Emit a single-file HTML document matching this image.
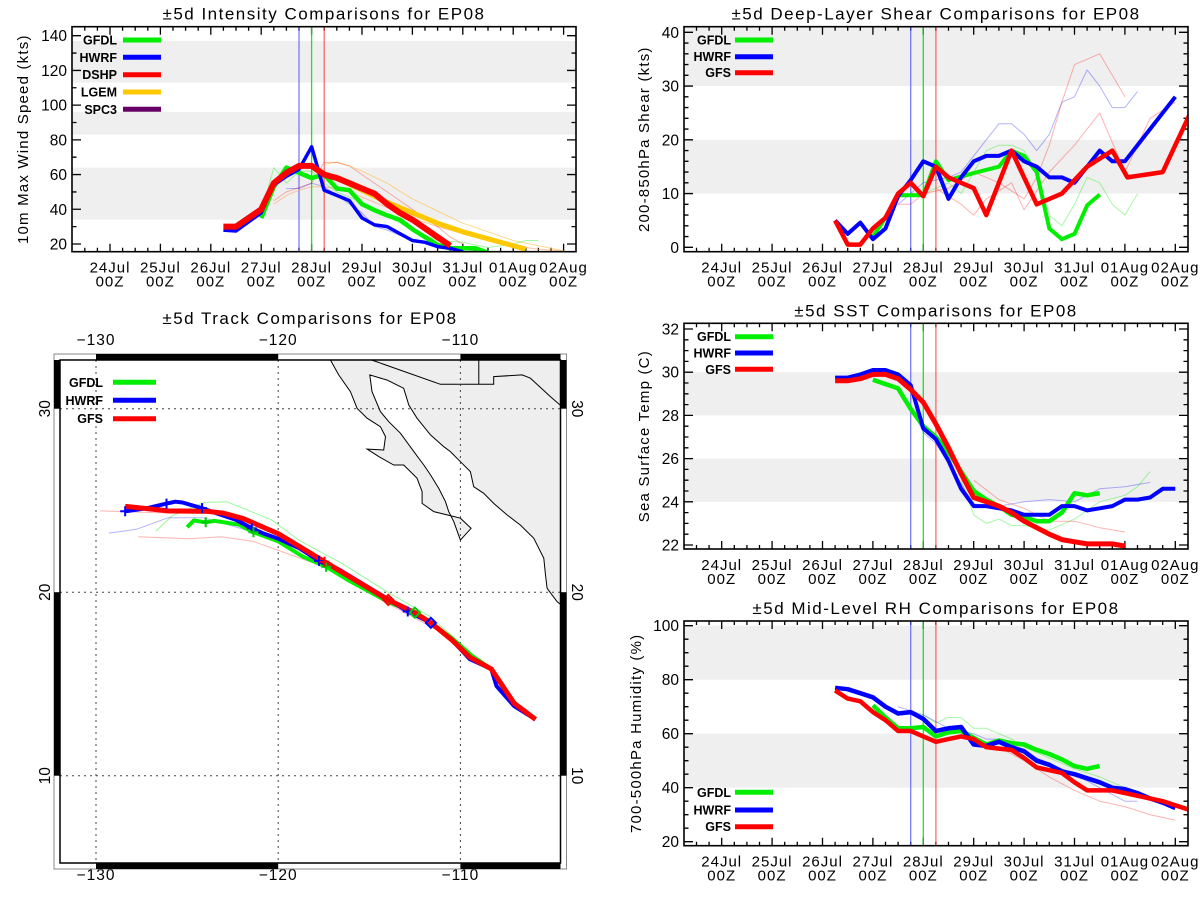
<!DOCTYPE html>
<html><head><meta charset="utf-8"><title>EP08 Comparisons</title>
<style>
html,body{margin:0;padding:0;background:#fff;}
svg{display:block;font-family:"Liberation Sans",sans-serif;}
</style></head>
<body>
<svg id="chart" width="1200" height="900" viewBox="0 0 1200 900" xmlns="http://www.w3.org/2000/svg"></svg>
<script>
// ===== data (day index: 0 = 24Jul 00Z) =====
const dateLabels=["24Jul","25Jul","26Jul","27Jul","28Jul","29Jul","30Jul","31Jul","01Aug","02Aug"];
const initDays=[3.75,4.0,4.25];

// Intensity (kts)
const intTicks=[20,40,60,80,100,120,140];
const intBands=[[34,64],[83,96],[113,137]];
const intDshpT=[2.25,2.5,3,3.25,3.5,3.75,4,4.25,4.5,4.75,5,5.25,5.5,5.75,6,6.25,6.5,6.75];
const intDshpV=[30,30,40,55,61,65,65,60,58,55,52,49,43,38,34,29,24,19];
const intHwrfT=[2.25,2.5,3,3.25,3.5,3.75,4,4.25,4.5,4.75,5,5.25,5.5,5.75,6,6.25,6.5,6.75,7];
const intHwrfV=[28,27.5,38,54,59,63,76,51,48,45,35,31,30,26,22,21,18.5,17.5,15.5];
const intGfdlT=[3,3.25,3.5,3.75,4,4.25,4.5,4.75,5,5.25,5.5,5.75,6,6.25,6.5,6.75,7,7.25,7.5];
const intGfdlV=[35,53,64,61,58,60,52,51,43,39.5,36.5,34,28.5,24,19.5,17.5,17.5,17.5,15];
const intLgemT=[4.25,4.5,5,5.5,6,6.5,7,7.5,8.25];
const intLgemV=[60,58,51,44,38,32,27,23,17];
const intThinOrg1T=[3.25,3.5,3.75,4,4.25,4.5,4.75,5,5.5,6,6.5,7,7.5,8,8.5,9];
const intThinOrg1V=[43,48,51,53,53,52,50,47,41,35,30,26,22,19,17,16];
const intThinOrg2T=[4.25,4.5,4.75,5,5.5,6,6.5,7,7.5,8,8.5,9];
const intThinOrg2V=[66,67,65,62,55,46,39,32,27,22,19,16];
const intThinRedT=[3.25,3.5,4,4.25,4.5,4.75,5,5.5,6,6.5,6.75,7];
const intThinRedV=[45,50,55,67,67,65,60,50,40,30,24,20];
const intThinBluT=[3.5,3.75,4,4.25,4.5,4.75,5,5.25,5.5,6,6.5,7,7.5];
const intThinBluV=[52,52,55,53,48,43,38,30,28,22,19,17,15];
const intThinGrnT=[3,3.25,3.5,3.75,4,4.25,4.5,5,5.5,6,6.5,7,7.5,8,8.25,8.5];
const intThinGrnV=[38,64,55,62,62,55,50,44,36,28,22,21,18,20,22,22];

// Shear (kts)
const shrTicks=[0,10,20,30,40];
const shrBands=[[10,20],[30,41]];
const shrHwrfT=[2.25,2.5,2.75,3,3.25,3.5,3.75,4,4.25,4.5,4.75,5,5.25,5.5,5.75,6,6.25,6.5,6.75,7,7.25,7.5,7.75,8,9];
const shrHwrfV=[5,2.5,4.6,1.5,3.5,9.5,12.5,16,15,9,13,16,17,17,18,16,15,13,13,12,15,18,16,16,28];
const shrGfsT=[2.25,2.5,2.75,3,3.25,3.5,3.75,4,4.25,4.5,5,5.25,5.75,6.25,6.75,7.25,7.75,8.05,8.75,9.3];
const shrGfsV=[5,0.5,0.5,3.5,5.5,10,12,9.5,15,13,11,6,18,8,10,15,18,13,14,25];
const shrGfdlT=[3,3.25,3.5,3.75,4,4.25,4.5,5,5.5,5.75,6,6.25,6.5,6.75,7,7.25,7.5];
const shrGfdlV=[2,5.5,9.7,9.7,9.7,16,12.5,13.8,15,18,17,14,3.5,1.5,2.5,7.8,9.8];
const shrThinBluT=[3.5,3.75,4,4.5,4.75,5,5.5,5.75,6,6.25,6.5,6.75,7,7.25,7.5,7.75,8,8.25];
const shrThinBluV=[8,10,12,13,14,17,23,23,21,18,21,27,28,33,30,26,26,29];
const shrThinRed1T=[3.5,3.75,4,4.5,5,5.5,6,6.25,6.5,6.75,7,7.5,8];
const shrThinRed1V=[8,8,10,11,14,12,9,13,19,27,34,36,28];
const shrThinRed2T=[4.25,4.75,5,5.25,5.75,6,6.5,7,7.5,8,8.5,9];
const shrThinRed2V=[11,8,6,9,12,7,14,19,25,14,24,27];
const shrThinGrnT=[3.25,3.5,4,4.5,4.75,5,5.25,5.5,5.75,6,6.25,6.5,6.75,7,7.25,7.5,7.75,8,8.25];
const shrThinGrnV=[6,10,10,12,10,14,18,19,19,18,14,6,4,8,13,12,8,6,10];

// SST (C)
const sstTicks=[22,24,26,28,30,32];
const sstBands=[[24,26],[28,30]];
const sstHwrfT=[2.25,2.5,2.75,3,3.25,3.5,3.75,4,4.25,4.5,4.75,5,5.25,5.5,5.75,6,6.25,6.5,6.75,7,7.25,7.5,7.75,8,8.25,8.5,8.75,9];
const sstHwrfV=[29.75,29.75,29.9,30.1,30.1,29.9,29.4,27.4,26.9,25.9,24.6,23.8,23.8,23.7,23.6,23.4,23.4,23.4,23.8,23.8,23.6,23.7,23.8,24.1,24.1,24.2,24.6,24.6];
const sstGfsT=[2.25,2.5,2.75,3,3.25,3.5,3.75,4,4.25,4.5,4.75,5,5.25,5.5,5.75,6,6.25,6.5,6.75,7,7.25,7.5,7.75,8];
const sstGfsV=[29.6,29.6,29.7,29.9,29.9,29.7,29.2,28.6,27.6,26.5,25.3,24.2,24.0,23.8,23.5,23.1,22.8,22.5,22.25,22.15,22.05,22.05,22.05,21.95];
const sstGfdlT=[3,3.25,3.5,3.75,4,4.25,4.5,4.75,5,5.25,5.5,5.75,6,6.25,6.5,6.75,7,7.25,7.5];
const sstGfdlV=[29.65,29.45,29.25,28.3,27.5,27.0,26.3,25.4,24.5,24.1,23.8,23.4,23.3,23.1,23.1,23.5,24.4,24.3,24.4];
const sstThinGrnT=[4.75,5,5.25,5.5,5.75,6,6.5,7,7.5,8,8.25,8.5];
const sstThinGrnV=[25,23.4,23.0,23.2,22.9,22.9,22.7,23.2,24.0,24.3,24.7,25.4];
const sstThinBluT=[3.75,4,4.25,5,5.5,6,6.5,7,7.5,8,8.5];
const sstThinBluV=[28.5,27.2,26.7,23.9,23.8,24.0,24.1,24.0,24.6,24.7,24.9];
const sstThinRedT=[5,5.5,6,6.5,7,7.5,8];
const sstThinRedV=[25.0,24.1,23.7,23.1,23.1,22.8,22.6];

// RH (%)
const rhTicks=[20,40,60,80,100];
const rhBands=[[40,60],[80,100]];
const rhHwrfT=[2.25,2.5,2.75,3,3.25,3.5,3.75,4,4.25,4.5,4.75,5,5.25,5.5,5.75,6,6.25,6.5,6.75,7,7.25,7.5,7.75,8,8.25,8.5,8.75,9];
const rhHwrfV=[77,76.5,75,73.5,70,67.5,68,65.5,61,62,62.5,56,55.5,57,55,53.5,50,48.5,46,45,43.5,42,40,39.5,38,36,34.5,32.5];
const rhGfsT=[2.25,2.5,2.75,3,3.25,3.5,3.75,4,4.25,4.5,4.75,5,5.25,5.5,5.75,6,6.25,6.5,6.75,7,7.25,7.5,7.75,8,8.25,8.5,8.75,9,9.25];
const rhGfsV=[76,73,72,68,65,61,61,59,57,58,59,58,55,54.5,54,51,47.5,46.5,45.5,42,39,39,39,38,37,36,35,33.5,32];
const rhGfdlT=[3,3.25,3.5,3.75,4,4.25,4.5,4.75,5,5.25,5.5,5.75,6,6.25,6.5,6.75,7,7.25,7.5];
const rhGfdlV=[70.5,66,62,62,62.5,59,60.5,61,58.5,56,57.5,56.5,56,54,52.5,50.5,48,47,48];
const rhThinGrnT=[4,4.25,4.5,4.75,5,5.25,5.5,5.75,6,6.5,7,7.5,8,8.25];
const rhThinGrnV=[67,64,66,66,62,62,60,58,55,51,47,44,40,38];
const rhThinBluT=[3.5,4,4.5,5,5.25,5.5,6,6.5,7,7.5,8,8.25];
const rhThinBluV=[70,67,62,60,58,58,53,49,45,40,35,35];
const rhThinRedT=[5,5.5,6,6.5,7,7.5,8,8.5,9];
const rhThinRedV=[57,55,50,44,39,35,33,30,28];

// Track (lon, lat)
const lonTicks=[-130,-120,-110];
const latTicks=[10,20,30];
const gfsLon=[-128.40,-126.03,-123.89,-123.01,-121.94,-119.99,-117.46,-113.96,-112.50,-111.62,-110.46,-109.48,-108.31,-107.05,-105.88];
const gfsLat=[24.68,24.43,24.41,24.31,24.02,23.18,21.66,19.58,18.89,18.33,17.39,16.45,15.82,13.95,13.07];
const hwrfLon=[-128.40,-127.20,-126.13,-125.64,-125.25,-124.18,-123.30,-122.33,-121.45,-120.77,-119.99,-118.83,-117.76,-116.68,-114.06,-112.89,-111.62,-110.46,-109.48,-108.31,-108.02,-107.05,-105.88];
const hwrfLat=[24.41,24.58,24.83,24.93,24.89,24.58,24.27,23.95,23.48,23.18,22.91,22.39,21.70,21.24,19.68,18.95,18.33,17.39,16.35,15.82,14.89,13.80,13.07];
const gfdlLon=[-125.00,-124.63,-123.98,-123.50,-122.14,-121.36,-119.99,-118.63,-117.37,-116.10,-113.96,-112.50,-111.62,-110.46,-109.39,-108.31];
const gfdlLat=[23.54,23.91,23.81,23.89,23.68,23.27,22.77,21.93,21.39,20.62,19.47,18.89,18.33,17.49,16.55,15.82];
const thinGrnLon=[-126.71,-125.83,-124.08,-122.82,-120.38,-118.83,-116.49,-113.96,-111.62,-108.90];
const thinGrnLat=[23.33,24.16,24.89,24.93,23.95,22.81,21.56,19.99,18.64,16.24];
const thinBluLon=[-129.30,-127.78,-126.03,-124.08,-121.55,-118.83,-114.15];
const thinBluLat=[23.22,23.43,24.06,24.06,23.33,22.60,19.68];
const thinRed1Lon=[-129.77,-125.83,-122.72,-119.99,-117.46,-113.96];
const thinRed1Lat=[24.43,24.31,24.27,23.22,21.77,19.68];
const thinRed2Lon=[-127.68,-124.86,-123.11,-121.36,-117.66,-114.15,-110.65];
const thinRed2Lat=[23.02,22.91,23.02,22.77,21.45,19.47,17.60];
const hwrfPlusLon=[-128.40,-126.13,-124.18,-121.45,-117.76,-112.89];
const hwrfPlusLat=[24.41,24.83,24.58,23.48,21.70,18.95];
const gfdlPlusLon=[-123.98,-121.36,-117.37];
const gfdlPlusLat=[23.81,23.27,21.39];
const gfsPlusLon=[-117.46];
const gfsPlusLat=[21.66];
const diamondLon=[-111.62,-112.50,-113.96];
const diamondLat=[18.33,18.89,19.58];
const landLon=[-117.3,-117.13,-116.68,-116.04,-115.67,-115.12,-114.39,-114.11,-114.21,-115.12,-114.48,-113.66,-113.11,-112.38,-112.10,-112.10,-111.46,-110.73,-110.0,-109.41,-110.0,
  -110.36,-110.64,-110.82,-111.19,-111.64,-112.01,-112.56,-113.29,-113.93,-114.39,-114.85,-114.97,
  -114.02,-113.11,-112.83,-112.38,-111.64,-110.91,-110.55,-110.0,-109.45,-109.27,-108.72,-108.17,-107.44,-106.71,-105.97,-105.42,-105.33,-105.24,-104.69,-104.2,-104.2];
const landLat=[32.9,32.65,31.84,30.93,30.02,29.48,29.02,28.48,27.75,27.80,27.39,26.93,26.93,26.21,25.48,24.84,24.39,24.21,24.03,23.48,22.84,
  23.84,24.39,24.93,25.66,26.39,26.93,27.66,28.66,29.29,29.84,30.93,31.84,
  31.56,31.11,30.20,29.48,28.57,27.93,27.66,27.11,26.57,25.75,25.39,24.84,24.21,23.66,22.94,21.85,20.94,20.21,19.48,19.1,32.9];
const borderLon=[-114.85,-111.10,-108.17,-108.17,-106.61,-106.16,-105.06,-104.3];
const borderLat=[32.65,31.33,31.33,31.75,31.84,31.66,30.66,30.0];
const border2Lon=[-108.99,-108.99];
const border2Lat=[32.9,31.33];

// ===== drawing =====
const NS='http://www.w3.org/2000/svg';
const svg=document.getElementById('chart');
const DAY=50.4;
function mk(tag,attrs,parent){const e=document.createElementNS(NS,tag);for(const k in attrs)e.setAttribute(k,attrs[k]);(parent||svg).appendChild(e);return e;}
function txt(s,attrs,parent){const e=mk('text',attrs,parent);e.textContent=s;return e;}

function makePanel(p){
  const g=mk('g',{});
  
  
  p.g=g;
  p.xs=d=>p.x0+DAY*d;
  p.ys=v=>p.y0-(v-p.v0)*p.k;
  const cid='clip-'+p.name;
  const cp=mk('clipPath',{id:cid},g);
  mk('rect',{x:p.L,y:p.T,width:p.R-p.L,height:p.B-p.T},cp);
  p.clip='url(#'+cid+')';
  p.bands.forEach(b=>{
    const y1=Math.max(p.T,p.ys(b[1])),y2=Math.min(p.B,p.ys(b[0]));
    const r=mk('rect',{x:p.L,y:y1,width:p.R-p.L,height:y2-y1,fill:'#efefef'},g);
    
    
  });
  const t=txt(p.title,{x:(p.L+p.R)/2,y:p.T-7,'text-anchor':'middle','font-size':17,'letter-spacing':1.5,fill:'#000'},g);
  
  
  const yc=(p.T+p.B)/2;
  const yt=txt(p.ytitle,{x:p.ytx,y:yc,'text-anchor':'middle','dominant-baseline':'middle','font-size':15,'letter-spacing':1.2,transform:'rotate(-90 '+p.ytx+' '+yc+')'},g);
  
  
  for(let q=-3;q<=37;q++){
    const d=q/4,x=p.xs(d);
    if(x<=p.L+0.5||x>=p.R-0.5)continue;
    const len=(q%4===0)?8:4;
    const tk=mk('path',{d:'M'+x+' '+p.B+'V'+(p.B-len)+'M'+x+' '+p.T+'V'+(p.T+len),stroke:'#000','stroke-width':1.3},g);
    
    
  }
  dateLabels.forEach((s,i)=>{
    const x=p.xs(i);
    const a=txt(s,{x:x,y:p.B+21,'text-anchor':'middle','font-size':15,'letter-spacing':1},g);
    
    
    const b=txt('00Z',{x:x,y:p.B+35,'text-anchor':'middle','font-size':15,'letter-spacing':1},g);
    
    
  });
  const lo=p.v0-(p.B-p.y0)/p.k, hi=p.v0+(p.y0-p.T)/p.k;
  for(let v=Math.ceil(lo/p.minor)*p.minor; v<=hi+1e-9; v+=p.minor){
    const y=p.ys(v);
    if(y>=p.B-0.5||y<=p.T+0.5)continue;
    const major=Math.abs(v/p.major-Math.round(v/p.major))<1e-6;
    const len=major?9:4.5;
    const tk=mk('path',{d:'M'+p.L+' '+y+'H'+(p.L+len)+'M'+p.R+' '+y+'H'+(p.R-len),stroke:'#000','stroke-width':1.3},g);
    
    
  }
  p.ticks.forEach(v=>{
    const l=txt(String(v),{x:p.L-5,y:p.ys(v)+5.5,'text-anchor':'end','font-size':15.5},g);
    
    
  });
  const ic=['rgba(80,80,255,0.75)','rgba(0,230,0,0.9)','rgba(255,60,60,0.75)'];
  initDays.forEach((d,i)=>{
    const ln=mk('line',{x1:p.xs(d),x2:p.xs(d),y1:p.T,y2:p.B,stroke:ic[i],'stroke-width':1.3},g);
    
    
  });
  return p;
}
function series(p,T,V,color,w,op,name){
  const pts=T.map((d,i)=>p.xs(d).toFixed(1)+','+p.ys(V[i]).toFixed(1)).join(' ');
  const pl=mk('polyline',{points:pts,fill:'none',stroke:color,'stroke-width':w,'stroke-opacity':op,'stroke-linejoin':'round','clip-path':p.clip},p.g);
  
  
}
function frame(p){
  const r=mk('rect',{x:p.L,y:p.T,width:p.R-p.L,height:p.B-p.T,fill:'none',stroke:'#000','stroke-width':1.6},p.g);
  
  
}
function legend(p,items,tx,lx1,lx2,ys){
  items.forEach((it,i)=>{
    const t=txt(it[0],{x:tx,y:ys[i]+4.5,'text-anchor':'end','font-size':12.5,'font-weight':'bold'},p.g||svg);
    
    
    const l=mk('line',{x1:lx1,x2:lx2,y1:ys[i],y2:ys[i],stroke:it[1],'stroke-width':5},p.g||svg);
    
    
  });
}
const G='#00ee00',B='#0000ff',R='#ff0000',O='#ffc800',Pu='#660066';

const pInt=makePanel({name:'intensity-panel',title:'\u00b15d Intensity Comparisons for EP08',ytitle:'10m Max Wind Speed (kts)',ytx:24,
  L:72,T:26.7,R:576,B:251.7,x0:110,v0:20,y0:244,k:1.7358,major:20,minor:10,bands:intBands,ticks:intTicks});
series(pInt,intThinOrg1T,intThinOrg1V,'#ffa060',1,0.6,'lgem-prev-run');
series(pInt,intThinOrg2T,intThinOrg2V,'#ffc040',1,0.6,'lgem-prev-run-2');
series(pInt,intThinRedT,intThinRedV,R,1,0.3,'dshp-prev-run');
series(pInt,intThinBluT,intThinBluV,B,1,0.3,'hwrf-prev-run');
series(pInt,intThinGrnT,intThinGrnV,G,1,0.35,'gfdl-prev-run');
series(pInt,intLgemT,intLgemV,O,5,1,'lgem-line');
series(pInt,intGfdlT,intGfdlV,G,4.5,1,'gfdl-line');
series(pInt,intHwrfT,intHwrfV,B,3.5,1,'hwrf-line');
series(pInt,intDshpT,intDshpV,R,6,1,'dshp-line');
frame(pInt);
legend(pInt,[['GFDL',G],['HWRF',B],['DSHP',R],['LGEM',O],['SPC3',Pu]],117,123,161,[40,57.3,74.7,92,109.3]);

const pShr=makePanel({name:'shear-panel',title:'\u00b15d Deep-Layer Shear Comparisons for EP08',ytitle:'200-850hPa Shear (kts)',ytx:645,
  L:684,T:26.7,R:1188,B:251.7,x0:721.7,v0:0,y0:247.3,k:5.375,major:10,minor:2,bands:shrBands,ticks:shrTicks});
series(pShr,shrThinBluT,shrThinBluV,B,1,0.3,'hwrf-prev-run');
series(pShr,shrThinRed1T,shrThinRed1V,R,1,0.3,'gfs-prev-run');
series(pShr,shrThinRed2T,shrThinRed2V,R,1,0.3,'gfs-prev-run-2');
series(pShr,shrThinGrnT,shrThinGrnV,G,1,0.35,'gfdl-prev-run');
series(pShr,shrGfdlT,shrGfdlV,G,4,1,'gfdl-line');
series(pShr,shrHwrfT,shrHwrfV,B,4,1,'hwrf-line');
series(pShr,shrGfsT,shrGfsV,R,4.5,1,'gfs-line');
frame(pShr);
legend(pShr,[['GFDL',G],['HWRF',B],['GFS',R]],731,735,773,[40,56.7,72.7]);

const pSst=makePanel({name:'sst-panel',title:'\u00b15d SST Comparisons for EP08',ytitle:'Sea Surface Temp (C)',ytx:645,
  L:684,T:323.3,R:1188,B:549,x0:721.7,v0:22,y0:545,k:21.6,major:2,minor:0.5,bands:sstBands,ticks:sstTicks});
series(pSst,sstThinGrnT,sstThinGrnV,G,1,0.35,'gfdl-prev-run');
series(pSst,sstThinBluT,sstThinBluV,B,1,0.3,'hwrf-prev-run');
series(pSst,sstThinRedT,sstThinRedV,R,1,0.3,'gfs-prev-run');
series(pSst,sstGfdlT,sstGfdlV,G,4.5,1,'gfdl-line');
series(pSst,sstHwrfT,sstHwrfV,B,4,1,'hwrf-line');
series(pSst,sstGfsT,sstGfsV,R,5,1,'gfs-line');
frame(pSst);
legend(pSst,[['GFDL',G],['HWRF',B],['GFS',R]],731,735,773,[336.7,353,369.3]);

const pRh=makePanel({name:'rh-panel',title:'\u00b15d Mid-Level RH Comparisons for EP08',ytitle:'700-500hPa Humidity (%)',ytx:637,
  L:684,T:621,R:1188,B:845.7,x0:721.7,v0:20,y0:841.7,k:2.7,major:20,minor:5,bands:rhBands,ticks:rhTicks});
series(pRh,rhThinGrnT,rhThinGrnV,G,1,0.35,'gfdl-prev-run');
series(pRh,rhThinBluT,rhThinBluV,B,1,0.3,'hwrf-prev-run');
series(pRh,rhThinRedT,rhThinRedV,R,1,0.3,'gfs-prev-run');
series(pRh,rhGfdlT,rhGfdlV,G,4.5,1,'gfdl-line');
series(pRh,rhHwrfT,rhHwrfV,B,4.5,1,'hwrf-line');
series(pRh,rhGfsT,rhGfsV,R,4.5,1,'gfs-line');
frame(pRh);
legend(pRh,[['GFDL',G],['HWRF',B],['GFS',R]],731,735,773,[792.3,810,826.7]);

(function(){
  const g=mk('g',{});
  
  
  const L=60,T=360,Rr=560.5,Bb=863;
  const lx=lon=>96+(lon+130)*18.22;
  const ly=lat=>408.7+(30-lat)*18.35;
  const cp=mk('clipPath',{id:'clip-map'},g);
  mk('rect',{x:L,y:T,width:Rr-L,height:Bb-T},cp);
  const t=txt('\u00b15d Track Comparisons for EP08',{x:310,y:324,'text-anchor':'middle','font-size':17,'letter-spacing':1.5},g);
  
  
  const land=mk('polygon',{points:landLon.map((v,i)=>lx(v).toFixed(1)+','+ly(landLat[i]).toFixed(1)).join(' '),fill:'#eeeeee',stroke:'#000','stroke-width':1,'clip-path':'url(#clip-map)'},g);
  
  
  const bd=mk('polyline',{points:borderLon.map((v,i)=>lx(v).toFixed(1)+','+ly(borderLat[i]).toFixed(1)).join(' '),fill:'none',stroke:'#000','stroke-width':1,'clip-path':'url(#clip-map)'},g);
  
  
  const bd2=mk('polyline',{points:border2Lon.map((v,i)=>lx(v).toFixed(1)+','+ly(border2Lat[i]).toFixed(1)).join(' '),fill:'none',stroke:'#000','stroke-width':1,'clip-path':'url(#clip-map)'},g);
  
  
  lonTicks.forEach(v=>{
    const x=lx(v);
    const gl=mk('line',{x1:x,x2:x,y1:T,y2:Bb,stroke:'#444','stroke-width':1,'stroke-dasharray':'2,4'},g);
    
    
    [345,880].forEach(yy=>{
      const l=txt('\u2212'+Math.abs(v),{x:x,y:yy,'text-anchor':'middle','font-size':15.5,'letter-spacing':1},g);
      
      
    });
  });
  latTicks.forEach(v=>{
    const y=ly(v);
    const gl=mk('line',{x1:L,x2:Rr,y1:y,y2:y,stroke:'#444','stroke-width':1,'stroke-dasharray':'2,4'},g);
    
    
    const a=txt(String(v),{x:46,y:y,'text-anchor':'middle','dominant-baseline':'middle','font-size':15.5,transform:'rotate(-90 46 '+y+')'},g);
    
    
    const b=txt(String(v),{x:576,y:y,'text-anchor':'middle','dominant-baseline':'middle','font-size':15.5,transform:'rotate(90 576 '+y+')'},g);
    
    
  });
  function trk(lo,la,c,w,op,name){
    const pl=mk('polyline',{points:lo.map((v,i)=>lx(v).toFixed(1)+','+ly(la[i]).toFixed(1)).join(' '),fill:'none',stroke:c,'stroke-width':w,'stroke-opacity':op,'stroke-linejoin':'round','clip-path':'url(#clip-map)'},g);
    
    
  }
  trk(thinGrnLon,thinGrnLat,G,1,0.4,'gfdl-prev-track');
  trk(thinBluLon,thinBluLat,B,1,0.3,'hwrf-prev-track');
  trk(thinRed1Lon,thinRed1Lat,R,1,0.3,'gfs-prev-track');
  trk(thinRed2Lon,thinRed2Lat,R,1,0.3,'gfs-prev-track-2');
  trk(gfdlLon,gfdlLat,G,4,1,'gfdl-track');
  trk(hwrfLon,hwrfLat,B,4,1,'hwrf-track');
  trk(gfsLon,gfsLat,R,5,1,'gfs-track');
  function plus(lo,la,c){
    lo.forEach((v,i)=>{
      const x=lx(v),y=ly(la[i]);
      const m=mk('path',{d:'M'+(x-5)+' '+y+'H'+(x+5)+'M'+x+' '+(y-5)+'V'+(y+5),stroke:c,'stroke-width':2},g);
      
      
    });
  }
  plus(hwrfPlusLon,hwrfPlusLat,B);
  plus(gfdlPlusLon,gfdlPlusLat,'#00cc00');
  plus(gfsPlusLon,gfsPlusLat,R);
  const dc=[B,'#00cc00',R];
  diamondLon.forEach((v,i)=>{
    const x=lx(v),y=ly(diamondLat[i]);
    const m=mk('polygon',{points:(x)+','+(y-5)+' '+(x+5)+','+y+' '+x+','+(y+5)+' '+(x-5)+','+y,fill:'none',stroke:dc[i],'stroke-width':2},g);
    
    
  });
  const of=mk('rect',{x:54,y:354,width:512.5,height:515,fill:'none',stroke:'#888','stroke-width':1},g);
  
  
  const bars=[[lx(-130),T-6,lx(-120)-lx(-130),6],[lx(-110),T-6,Rr-lx(-110),6],[lx(-130),Bb,lx(-120)-lx(-130),6],[lx(-110),Bb,Rr-lx(-110),6],
    [L-6,T,6,ly(30)-T],[L-6,ly(20),6,ly(10)-ly(20)],[Rr,T,6,ly(30)-T],[Rr,ly(20),6,ly(10)-ly(20)]];
  bars.forEach(b=>{
    const r=mk('rect',{x:b[0],y:b[1],width:b[2],height:b[3],fill:'#000'},g);
    
    
  });
  const fr=mk('rect',{x:L,y:T,width:Rr-L,height:Bb-T,fill:'none',stroke:'#000','stroke-width':1.5},g);
  
  
  legend({g:g},[['GFDL',G],['HWRF',B],['GFS',R]],103,113,156,[382.3,400.3,418.7]);
})();
</script>
</body></html>
